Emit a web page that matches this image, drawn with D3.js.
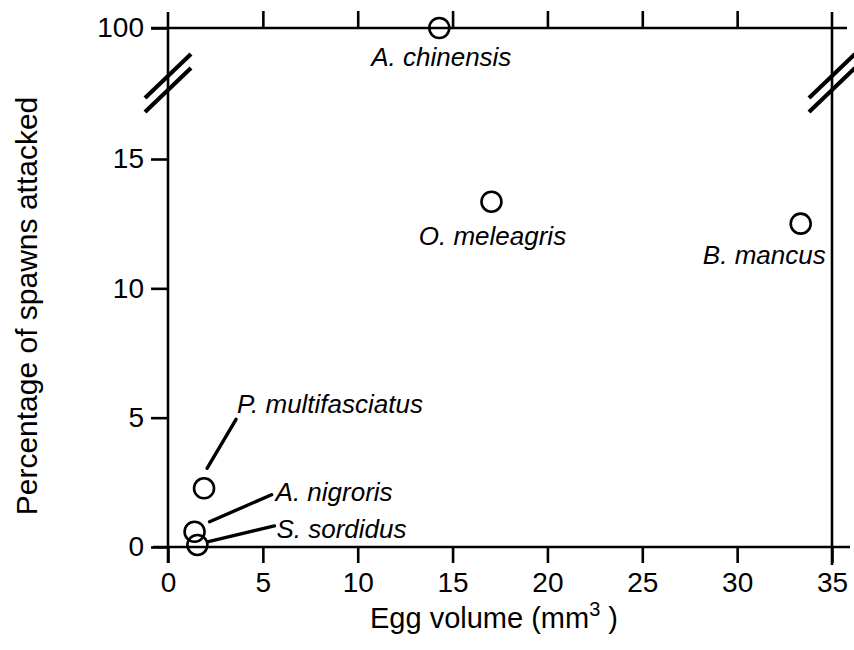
<!DOCTYPE html>
<html>
<head>
<meta charset="utf-8">
<script src="https://cdn.jsdelivr.net/npm/d3@7"></script>
<style>
  html, body { margin: 0; padding: 0; background: #fff; }
  svg { display: block; font-family: "Liberation Sans", Arial, Helvetica, sans-serif; }
</style>
</head>
<body>
<svg id="chart" width="854" height="650"></svg>
<script>
// ---- data ----
const species = ["A. chinensis", "O. meleagris", "B. mancus", "P. multifasciatus", "A. nigroris", "S. sordidus"];
const eggVolume = [14.3, 17.05, 33.35, 1.9, 1.4, 1.55];
const pctAttacked = [100, 13.35, 12.5, 2.27, 0.59, 0.08];
const xTicks = [0, 5, 10, 15, 20, 25, 30, 35];
const yTicks = [0, 5, 10, 15, 100];

(function () {
const svg = d3.select("#chart");
const ink = "#000";

// scales (broken y axis: 0-15 linear, then jump to 100)
const x = d3.scaleLinear().domain([0, 35]).range([168, 832]);
const y = d3.scaleLinear().domain([0, 15, 100]).range([547, 159, 28]);

const pL = x(0), pR = x(35), pB = y(0), pT = y(100);
const sw = 2.6;

// bottom axis
const gx = svg.append("g").attr("transform", `translate(0,${pB})`)
  .call(d3.axisBottom(x).tickValues(xTicks).tickSize(16).tickPadding(9).tickSizeOuter(0));
gx.select(".domain").remove();
gx.selectAll("line").attr("stroke", ink).attr("stroke-width", sw);
gx.selectAll("text").attr("font-size", 28).attr("fill", ink);

// top axis (no labels)
const gt = svg.append("g").attr("transform", `translate(0,${pT})`)
  .call(d3.axisTop(x).tickValues(xTicks.slice(1, -1)).tickSize(17).tickFormat("").tickSizeOuter(0));
gt.select(".domain").remove();
gt.selectAll("line").attr("stroke", ink).attr("stroke-width", sw);

// left axis
const gy = svg.append("g").attr("transform", `translate(${pL},0)`)
  .call(d3.axisLeft(y).tickValues(yTicks).tickSize(17).tickPadding(7).tickSizeOuter(0));
gy.select(".domain").remove();
gy.selectAll("line").attr("stroke", ink).attr("stroke-width", sw);
gy.selectAll("text").attr("font-size", 28).attr("fill", ink);

// frame lines (extend past corners like the original)
const frame = svg.append("g").attr("stroke", ink).attr("stroke-width", sw).attr("fill", "none");
frame.append("line").attr("x1", pL - 15).attr("x2", pR + 18).attr("y1", pB).attr("y2", pB);
frame.append("line").attr("x1", pL - 17).attr("x2", pR + 15).attr("y1", pT).attr("y2", pT);
frame.append("line").attr("x1", pL).attr("x2", pL).attr("y1", pT - 16).attr("y2", pB + 16);
frame.append("line").attr("x1", pR).attr("x2", pR).attr("y1", pT - 16).attr("y2", pB + 18);

// break marks on both vertical axes
const breakY = [y(15) - 83, y(15) - 69];
[pL, pR].forEach(ax => {
  breakY.forEach(by => {
    svg.append("line")
      .attr("x1", ax - 23).attr("y1", by + 22)
      .attr("x2", ax + 23).attr("y2", by - 22)
      .attr("stroke", ink).attr("stroke-width", 4.2).attr("stroke-linecap", "butt");
  });
});

// data
const pts = species.map((s, i) => ({ name: s, vx: eggVolume[i], vy: pctAttacked[i] }));

// leader lines for the crowded low points: [dx1, dy1, dx2, dy2] relative to point
const leaders = {
  "P. multifasciatus": [3, -20, 32, -69],
  "A. nigroris": [15, -10, 77, -37],
  "S. sordidus": [10, -3, 77, -19]
};
const lg = svg.append("g").attr("stroke", ink).attr("stroke-width", 3.4).attr("stroke-linecap", "round");
pts.filter(d => leaders[d.name]).forEach(d => {
  const l = leaders[d.name];
  lg.append("line")
    .attr("x1", x(d.vx) + l[0]).attr("y1", y(d.vy) + l[1])
    .attr("x2", x(d.vx) + l[2]).attr("y2", y(d.vy) + l[3]);
});

// circles
svg.append("g").selectAll("circle").data(pts).join("circle")
  .attr("cx", d => x(d.vx)).attr("cy", d => y(d.vy)).attr("r", 10)
  .attr("fill", "none").attr("stroke", ink).attr("stroke-width", 2.6);

// labels: [dx, dy, anchor] relative to point
const labelPos = {
  "A. chinensis": [2, 38, "middle"],
  "O. meleagris": [1, 43, "middle"],
  "B. mancus": [25, 40, "end"],
  "P. multifasciatus": [33, -75, "start"],
  "A. nigroris": [81, -31, "start"],
  "S. sordidus": [79, -7, "start"]
};
svg.append("g").selectAll("text").data(pts).join("text")
  .attr("x", d => x(d.vx) + labelPos[d.name][0])
  .attr("y", d => y(d.vy) + labelPos[d.name][1])
  .attr("text-anchor", d => labelPos[d.name][2])
  .attr("font-size", 26).attr("font-style", "italic").attr("fill", ink)
  .text(d => d.name);

// axis titles
const xt = svg.append("text").attr("x", 370).attr("y", 628)
  .attr("font-size", 29).attr("fill", ink);
xt.append("tspan").text("Egg volume (mm");
xt.append("tspan").attr("font-size", 20).attr("dy", -12).text("3");
xt.append("tspan").attr("dy", 12).text(" )");

svg.append("text")
  .attr("transform", `translate(37,306) rotate(-90)`)
  .attr("text-anchor", "middle").attr("font-size", 30).attr("fill", ink)
  .text("Percentage of spawns attacked");
})();
</script>
</body>
</html>
